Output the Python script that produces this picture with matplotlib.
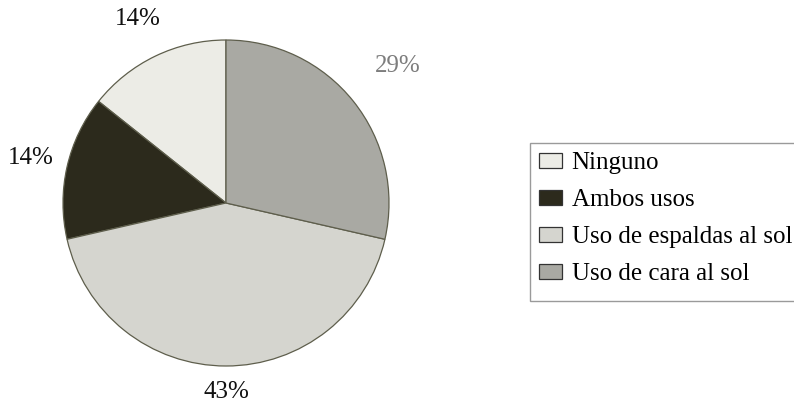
import numpy as np
import matplotlib.pyplot as plt
from matplotlib.patches import Patch, Rectangle

plt.rcParams['font.family'] = ['Liberation Serif', 'DejaVu Serif']

# survey answers, counterclockwise from 12 o'clock
labels = ["Ninguno", "Ambos usos", "Uso de espaldas al sol", "Uso de cara al sol"]
counts = [1, 1, 3, 2]
pct_labels = ["14%", "14%", "43%", "29%"]

colors = ["#ecece6", "#2c2a1c", "#d5d5cf", "#a9a9a3"]
label_colors = ["#111111", "#111111", "#111111", "#7d7d7d"]
label_dist = [1.25, 1.23, 1.16, 1.35]

W, H = 794, 409
fig = plt.figure(figsize=(W / 100, H / 100), dpi=100)
ax = fig.add_axes([0, 0, 1, 1])

cx, cy, r = 226, H - 203, 163
wedges, _ = ax.pie(counts, colors=colors, startangle=90, counterclock=True,
                   center=(cx, cy), radius=r, frame=True,
                   wedgeprops=dict(edgecolor="#5e5e4c", linewidth=0.9))
ax.set_xlim(0, W)
ax.set_ylim(0, H)
ax.axis("off")

for w, txt, d, c in zip(wedges, pct_labels, label_dist, label_colors):
    ang = np.deg2rad((w.theta1 + w.theta2) / 2)
    ax.text(cx + d * r * np.cos(ang), cy + d * r * np.sin(ang), txt,
            ha="center", va="center", fontsize=18, color=c)

# legend box runs past the right edge, so draw the frame by hand
ax.add_patch(Rectangle((530, H - 301), 280, 158, facecolor="white",
                       edgecolor="#9a9a9a", linewidth=1.0, clip_on=False))

handles = [Patch(facecolor=c, edgecolor="#333333", linewidth=0.9) for c in colors]
leg = fig.legend(handles, labels, loc="upper left",
                 bbox_to_anchor=(531 / W, 1 - 145 / H), borderaxespad=0,
                 fontsize=18, frameon=False,
                 handlelength=0.92, handleheight=0.56, handletextpad=0.4,
                 labelspacing=0.6, borderpad=0.3)

fig.savefig("out.png", dpi=100)
